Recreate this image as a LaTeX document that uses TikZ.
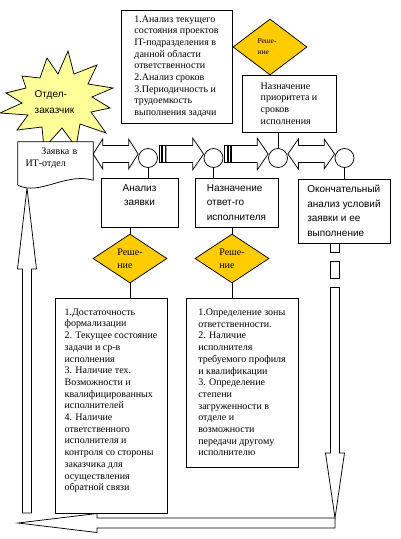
\documentclass[tikz,border=0pt]{standalone}
\usepackage{fontspec}
\setmainfont{Liberation Serif}
\newfontfamily\arialfont{Liberation Sans}
\usetikzlibrary{shapes.geometric,calc,backgrounds}

\definecolor{burstyellow}{RGB}{255,255,153}
\definecolor{gold}{RGB}{255,204,0}

\tikzset{
  frame/.style={draw, fill=white, line width=.75pt},
  textbox/.style={frame, align=left, inner xsep=2pt, inner ysep=0pt,
    font=\fontsize{10}{11.7}\selectfont},
  sansbox/.style={frame, align=left, inner xsep=2pt, inner ysep=0pt,
    font=\arialfont\fontsize{10}{14.5}\selectfont},
  decision/.style={diamond, draw, fill=gold, line width=.75pt, inner sep=0pt,
    align=left, minimum width=74pt, minimum height=49pt,
    font=\fontsize{10}{13}\selectfont},
  joint/.style={circle, draw, fill=white, line width=.75pt,
    minimum size=19pt, inner sep=0pt},
  burst/.style={draw, fill=burstyellow, line width=.75pt, line join=miter},
  arrowbody/.style={draw, fill=white, line width=.75pt, line join=miter},
  stripe/.style={draw, fill=white, line width=.6pt},
  link/.style={line width=.75pt}
}

% hollow block arrow: tail, tip, head length, head half width, shaft half width
\newcommand{\blockarrow}[5]{%
  \path (#1) coordinate (ba-t);
  \path (#2) coordinate (ba-h);
  \path ($(ba-h)!#3!(ba-t)$) coordinate (ba-b);
  \draw[arrowbody] ($(ba-t)!#5!90:(ba-h)$) -- ($(ba-b)!#5!90:(ba-h)$)
    -- ($(ba-b)!#4!90:(ba-h)$) -- (ba-h) -- ($(ba-b)!#4!-90:(ba-h)$)
    -- ($(ba-b)!#5!-90:(ba-h)$) -- ($(ba-t)!#5!-90:(ba-h)$) -- cycle;}
% the same with a head at both ends
\newcommand{\dblockarrow}[5]{%
  \path (#1) coordinate (ba-t);
  \path (#2) coordinate (ba-h);
  \path ($(ba-h)!#3!(ba-t)$) coordinate (ba-b);
  \path ($(ba-t)!#3!(ba-h)$) coordinate (ba-a);
  \draw[arrowbody] (ba-t) -- ($(ba-a)!#4!90:(ba-h)$) -- ($(ba-a)!#5!90:(ba-h)$)
    -- ($(ba-b)!#5!90:(ba-h)$) -- ($(ba-b)!#4!90:(ba-h)$) -- (ba-h)
    -- ($(ba-b)!#4!-90:(ba-h)$) -- ($(ba-b)!#5!-90:(ba-h)$)
    -- ($(ba-a)!#5!-90:(ba-h)$) -- ($(ba-a)!#4!-90:(ba-h)$) -- cycle;}

\begin{document}
\begin{tikzpicture}[x=1pt,y=-1pt]
\useasboundingbox (0,0) rectangle (400,539);

% top
\node[textbox, minimum width=111pt, minimum height=113pt] (task) at (176.5,66.5)
  {1.Анализ текущего\\состояния проектов\\IT-подразделения в\\данной области\\ответственности\\2.Анализ сроков\\3.Периодичность и\\трудоемкость\\выполнения задачи};
\node[textbox, minimum width=94pt, minimum height=57pt] (prior) at (289,103.5)
  {Назначение\\приоритета и\\сроков\\исполнения};
\node[decision, minimum height=56pt, font=\fontsize{7.5}{11}\selectfont] (dec0) at (270,47)
  {Реше-\hspace*{6pt}\\ние};

\node[align=left, inner sep=0pt, font=\arialfont\fontsize{10}{16}\selectfont] (client) at (54.5,102)
  {Отдел-\\заказчик};
\node[align=left, text width=60pt, inner xsep=7.5pt, inner ysep=0pt,
  minimum height=32pt] (doc) at (55.5,158) {\hspace*{16pt}Заявка в\\ИТ-отдел};

\coordinate (axis) at (0,154);
\foreach \n/\x in {c1/148,c2/213.5,c3/278,c4/344.5}
  \node[joint] (\n) at (\x,158) {};

% middle row
\node[sansbox, align=center, minimum width=77pt, minimum height=49pt] (a1) at (139.5,202.5)
  {Анализ\\заявки\\\mbox{}};
\node[sansbox, minimum width=83pt, minimum height=49pt] (a2) at (236.5,202.5)
  {Назначение\\ответ-го\\исполнителя};
\node[sansbox, minimum width=92pt, minimum height=64pt] (a4) at (344,211)
  {Окончательный\\анализ условий\\заявки и ее\\выполнение};

\node[decision] (dec1) at (130,258.5) {Реше-\\ние};
\node[decision] (dec2) at (232,258.5) {Реше-\\ние};

% bottom
\node[textbox, minimum width=112pt, minimum height=215pt] (b1) at (111,405.5)
  {1.Достаточность\\формализации\\2. Текущее состояние\\задачи и ср-в\\исполнения\\3. Наличие тех.\\Возможности и\\квалифицированных\\исполнителей\\4. Наличие\\ответственного\\исполнителя и\\контроля со стороны\\заказчика для\\осуществления\\обратной связи\\\mbox{}};
\node[textbox, minimum width=112pt, minimum height=169pt] (b2) at (242,382.5)
  {1.Определение зоны\\ответственности.\\2. Наличие\\исполнителя\\требуемого профиля\\и квалификации\\3. Определение\\степени\\загруженности в\\отделе и\\возможности\\передачи другому\\исполнителю};

\draw[link] (c1.south) -- (c1.south |- a1.north);
\draw[link] (c2.south) -- (c2.south |- a2.north);
\draw[link] (c3.north) -- (c3.north |- prior.south);
\draw[link] (c4.south) -- (c4.south |- a4.north);
\draw[link] (dec1.north) -- (dec1.north |- a1.south);
\draw[link] (dec1.south) -- (dec1.south |- b1.north);
\draw[link] (dec2.north) -- (dec2.north |- a2.south);
\draw[link] (dec2.south) -- (dec2.south |- b2.north);

% loop back to the customer
\coordinate (drop) at (335,518);
\coordinate (turn) at (335,523);
\coordinate (back) at (18,523);
\coordinate (rise) at (27,513);
\coordinate (docfoot) at (27,188);

\begin{scope}[on background layer]
  \draw[burst] plot coordinates {(68,51) (74,74) (97,65) (88,84) (113,88) (92,97)
    (110,108) (91,112) (106,133) (80,124) (76,147) (62,128) (44,148) (42,127)
    (17,130) (28,115) (0,113) (22,103) (6,93) (26,88) (22,76) (40,78) (47,58) (58,74)} -- cycle;
  \blockarrow{rise}{docfoot}{81pt}{9.5pt}{4.5pt}
  \draw[frame] (doc.north west) -- (doc.north east) -- ($(doc.south east)+(0,6)$)
    .. controls ($(doc.south east)+(-28,-2)$) and ($(doc.south west)+(22,22)$)
    .. ($(doc.south west)+(0,11)$) -- cycle;

  \dblockarrow{doc.east |- axis}{c1.west |- axis}{9.5pt}{15pt}{8.5pt}
  \foreach \from/\to in {c1/c2,c2/c3}{
    \foreach \a/\b in {1/3.5,4.5/7}
      \draw[stripe] ($(\from.east |- axis)+(\a,-8.5)$) rectangle ($(\from.east |- axis)+(\b,8.5)$);
    \blockarrow{$(\from.east |- axis)+(8,0)$}{\to.west |- axis}{11pt}{16pt}{8.5pt}
  }
  \dblockarrow{c3.east |- axis}{c4.west |- axis}{10.5pt}{15pt}{8.5pt}

  \foreach \a/\b in {0/9,18/35}
    \draw[arrowbody] ($(a4.south -| drop)+(-4.5,\a)$) rectangle ($(a4.south -| drop)+(4.5,\b)$);
  \blockarrow{$(a4.south -| drop)+(0,44)$}{drop}{65pt}{9.5pt}{4.5pt}
  \blockarrow{turn}{back}{79pt}{9.5pt}{5pt}
\end{scope}
\end{tikzpicture}
\end{document}
